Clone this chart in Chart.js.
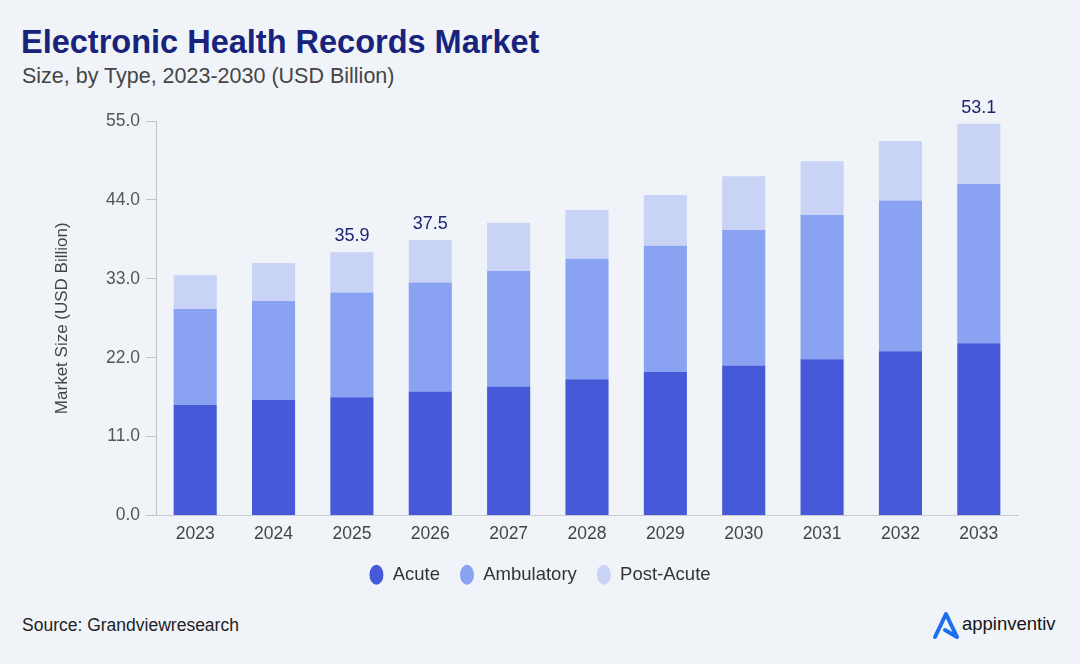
<!DOCTYPE html>
<html>
<head>
<meta charset="utf-8">
<script src="https://cdn.jsdelivr.net/npm/chart.js@4.4.1/dist/chart.umd.min.js"></script>
<style>
  html, body { margin: 0; padding: 0; }
  body {
    width: 1080px; height: 664px; overflow: hidden; position: relative;
    background: #f0f4f9; font-family: "Liberation Sans", Arial, sans-serif;
  }
  .title { position: absolute; left: 21px; top: 24px; font-size: 32.5px; font-weight: bold; color: #18237b; white-space: nowrap; }
  .subtitle { position: absolute; left: 22px; top: 64px; font-size: 21.5px; color: #454545; white-space: nowrap; }
  #chart { position: absolute; left: 0; top: 90px; }
  .source { position: absolute; left: 22px; top: 615px; font-size: 17.5px; color: #222; }
  .logo { position: absolute; left: 932px; top: 610px; display: flex; align-items: center; }
  .logo span { font-size: 18.5px; color: #151515; margin-left: 2px; margin-top: -3px; }
</style>
</head>
<body>
<div class="title">Electronic Health Records Market</div>
<div class="subtitle">Size, by Type, 2023-2030 (USD Billion)</div>
<canvas id="chart" width="1080" height="504"></canvas>
<div class="source">Source: Grandviewresearch</div>
<div class="logo">
  <svg width="28" height="30" viewBox="0 0 28 30">
    <polyline points="3,27 14,4 25,27 13,20" fill="none" stroke="#1d6ff2" stroke-width="4" stroke-linejoin="round" stroke-linecap="round"/>
  </svg>
  <span>appinventiv</span>
</div>
<script>
const years = ['2023', '2024', '2025', '2026', '2027', '2028', '2029', '2030', '2031', '2032', '2033']
const acute = [15.4, 16.1, 16.5, 17.3, 18.0, 19.0, 20.0, 20.9, 21.8, 22.9, 24.0]
const ambulatory = [13.4, 13.8, 14.6, 15.2, 16.1, 16.8, 17.6, 18.9, 20.1, 21.0, 22.2]
const postAcute = [4.7, 5.3, 5.6, 5.9, 6.7, 6.8, 7.1, 7.5, 7.5, 8.3, 8.4]
const totalLabels = [null, null, '35.9', '37.5', null, null, null, null, null, null, '53.1']
const yTicks = [0, 11, 22, 33, 44, 55]

const fontFamily = '"Liberation Sans", Arial, sans-serif'

// labels over a few of the stacks
const totalLabelPlugin = {
  id: 'totalLabels',
  afterLayout(chart) {
    // legend sits centred on the page, not on the plot box
    chart.legend.left += 31
    chart.legend.right += 31
  },
  afterDatasetsDraw(chart) {
    const ctx = chart.ctx
    const meta = chart.getDatasetMeta(chart.data.datasets.length - 1)
    ctx.save()
    ctx.font = '18px ' + fontFamily
    ctx.fillStyle = '#1c2570'
    ctx.textAlign = 'center'
    ctx.textBaseline = 'bottom'
    totalLabels.forEach((txt, i) => {
      if (!txt) return
      const bar = meta.data[i]
      ctx.fillText(txt, bar.x, bar.y - 7)
    })
    ctx.restore()
  }
}

const chart = new Chart(document.getElementById('chart').getContext('2d'), {
  type: 'bar',
  data: {
    labels: years,
    datasets: [
      { label: 'Acute', data: acute, backgroundColor: '#4559d9' },
      { label: 'Ambulatory', data: ambulatory, backgroundColor: '#89a2f2' },
      { label: 'Post-Acute', data: postAcute, backgroundColor: '#c9d3f5' }
    ]
  },
  options: {
    responsive: false,
    animation: false,
    devicePixelRatio: 1,
    layout: { padding: { top: 31, right: 62, left: 0, bottom: 0 } },
    datasets: {
      bar: { barPercentage: 0.55, categoryPercentage: 1, borderWidth: 0 }
    },
    plugins: {
      tooltip: { enabled: false },
      legend: {
        position: 'bottom',
        labels: {
          usePointStyle: true,
          pointStyle: 'circle',
          boxHeight: 14,
          pointStyleWidth: 14,
          padding: 20,
          color: '#333',
          font: { family: fontFamily, size: 18.5 }
        }
      }
    },
    scales: {
      x: {
        stacked: true,
        grid: { display: false, drawTicks: false },
        border: { color: '#c8cbd0' },
        ticks: { color: '#444', padding: 8, font: { family: fontFamily, size: 17.5 } },
        afterFit(scale) { scale.height = 30 }
      },
      y: {
        stacked: true,
        min: 0,
        max: 55,
        afterBuildTicks(scale) { scale.ticks = yTicks.map(v => ({ value: v })) },
        grid: { drawOnChartArea: false, drawTicks: true, tickLength: 10, color: '#bfc3c8' },
        border: { color: '#bfc3c8' },
        ticks: {
          color: '#555',
          padding: 6,
          font: { family: fontFamily, size: 17.5 },
          callback: v => Number(v).toFixed(1)
        },
        title: {
          display: true,
          text: 'Market Size (USD Billion)',
          color: '#444',
          padding: { top: 52, bottom: 0 },
          font: { family: fontFamily, size: 17 }
        },
        afterFit(scale) { scale.width = 156 }
      }
    }
  },
  plugins: [totalLabelPlugin]
})
</script>
</body>
</html>
